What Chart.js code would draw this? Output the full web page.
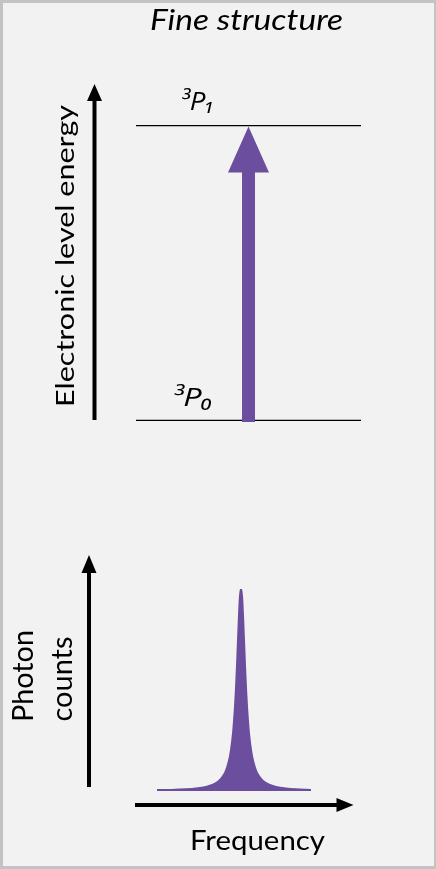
<!DOCTYPE html>
<html><head><meta charset="utf-8">
<script src="https://cdn.jsdelivr.net/npm/chart.js@4"></script>
<style>
html,body{margin:0;padding:0;background:#f2f2f2;}
#frame{position:absolute;left:0;top:0;width:436px;height:869px;box-sizing:border-box;border:3px solid #c3c3c3;border-right-width:2px;background:#f2f2f2;}
#c1{position:absolute;left:0;top:0;}
#c2{position:absolute;left:0;top:470px;}
</style></head><body>
<div id="frame"></div>
<canvas id="c1" width="436" height="470"></canvas>
<canvas id="c2" width="436" height="399"></canvas>
<script>
// ---- data ----
const titleText = 'Fine structure';
const energyAxisLabel = 'Electronic level energy';
const levelNames = ['³P₀', '³P₁'];
const levelEnergies = [0, 1];
const transition = [0, 1]; // from level index, to level index
const freqAxisLabel = 'Frequency';
const countsAxisLabel = ['Photon', 'counts'];
const spectrumFreq = [-84,-70,-55,-45,-35,-28,-22,-18,-15,-12,-10,-8,-7,-6,-5,-4,-3,-2,-1,0,1,2,3,4,5,6,7,8,10,12,15,18,22,28,35,45,55,70];
const spectrumCounts = [0.4,0.5,0.8,1.2,2.0,3.1,4.9,7.2,10,14.8,20,28,34,41,50,61,73.5,86,96,100,96,86,73.5,61,50,41,34,28,20,14.8,10,7.2,4.9,3.1,2.0,1.2,0.8,0.5];

// ---- style ----
const PURPLE = '#6b4f9e';
const INK = '#000000';
const FONT = 'Lato, "Open Sans", sans-serif';
const LABEL_FONT = 'italic 25px "Open Sans", sans-serif';

function drawArrow(ctx, x1, y1, x2, y2, shaftW, headW, headL, color) {
  const dx = x2 - x1, dy = y2 - y1, len = Math.hypot(dx, dy);
  const ux = dx / len, uy = dy / len, px = -uy, py = ux;
  const bx = x2 - ux * headL, by = y2 - uy * headL;
  ctx.save();
  ctx.fillStyle = color;
  ctx.beginPath();
  ctx.moveTo(x1 + px * shaftW / 2, y1 + py * shaftW / 2);
  ctx.lineTo(bx + px * shaftW / 2, by + py * shaftW / 2);
  ctx.lineTo(bx + px * headW / 2, by + py * headW / 2);
  ctx.lineTo(x2, y2);
  ctx.lineTo(bx - px * headW / 2, by - py * headW / 2);
  ctx.lineTo(bx - px * shaftW / 2, by - py * shaftW / 2);
  ctx.lineTo(x1 - px * shaftW / 2, y1 - py * shaftW / 2);
  ctx.closePath();
  ctx.fill();
  ctx.restore();
}

// text fitted along its direction to a target length; rot = 0 or -90
function fitText(ctx, text, font, ax, ay, targetW, rot) {
  ctx.save();
  ctx.font = font;
  ctx.fillStyle = INK;
  ctx.textAlign = 'center';
  ctx.textBaseline = 'alphabetic';
  const w = ctx.measureText(text).width;
  ctx.translate(ax, ay);
  if (rot) ctx.rotate(rot * Math.PI / 180);
  ctx.scale(targetW / w, 1);
  ctx.fillText(text, 0, 0);
  ctx.restore();
}

// ---- upper panel: energy levels ----
const levelDatasets = levelEnergies.map((e, i) => ({
  label: levelNames[i],
  data: [{x: 0, y: e}, {x: 1, y: e}],
  showLine: true, borderColor: INK, borderWidth: 2.4, pointRadius: 0
}));
const transitionDataset = {
  label: 'transition',
  data: [{x: 0.5, y: levelEnergies[transition[0]]}, {x: 0.5, y: levelEnergies[transition[1]]}],
  showLine: false, pointRadius: 0
};

const upperPlugin = {
  id: 'upperDecor',
  afterDatasetsDraw(chart) {
    const ctx = chart.ctx, a = chart.chartArea;
    const xs = chart.scales.x, ys = chart.scales.y;
    const t = transitionDataset.data;
    drawArrow(ctx, xs.getPixelForValue(t[0].x), ys.getPixelForValue(t[0].y) + 1,
      xs.getPixelForValue(t[1].x), ys.getPixelForValue(t[1].y) + 1.5, 13, 41, 46, PURPLE);
    drawArrow(ctx, a.left - 41.5, a.bottom - 1, a.left - 41.5, a.top - 41, 4, 15, 17, INK);
    levelEnergies.forEach((e, i) => {
      const y = ys.getPixelForValue(e);
      fitText(ctx, levelNames[i], LABEL_FONT, a.left + (i === 1 ? 61.5 : 56.5), y - 15.5, i === 1 ? 35 : 41, 0);
    });
    fitText(ctx, titleText, 'italic 29px ' + FONT, 246.5, 29.5, 193, 0);
    fitText(ctx, energyAxisLabel, '25px ' + FONT, 73.5, 256, 302, -90);
  }
};

new Chart(document.getElementById('c1'), {
  type: 'scatter',
  data: {datasets: [...levelDatasets, transitionDataset]},
  options: {
    responsive: false, animation: false, events: [],
    layout: {padding: {left: 136, right: 75, top: 125, bottom: 49}},
    scales: {
      x: {type: 'linear', min: 0, max: 1, display: false},
      y: {type: 'linear', min: 0, max: 1, display: false}
    },
    plugins: {legend: {display: false}, tooltip: {enabled: false}}
  },
  plugins: [upperPlugin]
});

// ---- lower panel: spectrum ----
const lowerPlugin = {
  id: 'lowerDecor',
  afterDatasetsDraw(chart) {
    const ctx = chart.ctx, a = chart.chartArea;
    drawArrow(ctx, a.left - 47, a.bottom - 4, a.left - 47, a.top - 34, 4, 15, 18, INK);
    drawArrow(ctx, a.left - 1, a.bottom + 14, a.right + 0.5, a.bottom + 14, 4, 14, 17, INK);
    fitText(ctx, countsAxisLabel[0], '28px ' + FONT, 33.3, 206, 92, -90);
    fitText(ctx, countsAxisLabel[1], '28px ' + FONT, 71.7, 209, 85, -90);
    fitText(ctx, freqAxisLabel, '26px ' + FONT, 257.5, 380, 135, 0);
  }
};

new Chart(document.getElementById('c2'), {
  type: 'line',
  data: {
    datasets: [{
      label: 'Photon counts',
      data: spectrumFreq.map((f, i) => ({x: f, y: spectrumCounts[i]})),
      borderColor: PURPLE, backgroundColor: PURPLE, borderWidth: 2.2,
      fill: 'origin', pointRadius: 0, cubicInterpolationMode: 'monotone'
    }]
  },
  options: {
    responsive: false, animation: false, events: [],
    layout: {padding: {left: 136, right: 83, top: 119, bottom: 78}},
    scales: {
      x: {type: 'linear', min: -105, max: 112, display: false},
      y: {type: 'linear', min: 0, max: 100, display: false}
    },
    plugins: {legend: {display: false}, tooltip: {enabled: false}}
  },
  plugins: [lowerPlugin]
});
</script>
</body></html>
